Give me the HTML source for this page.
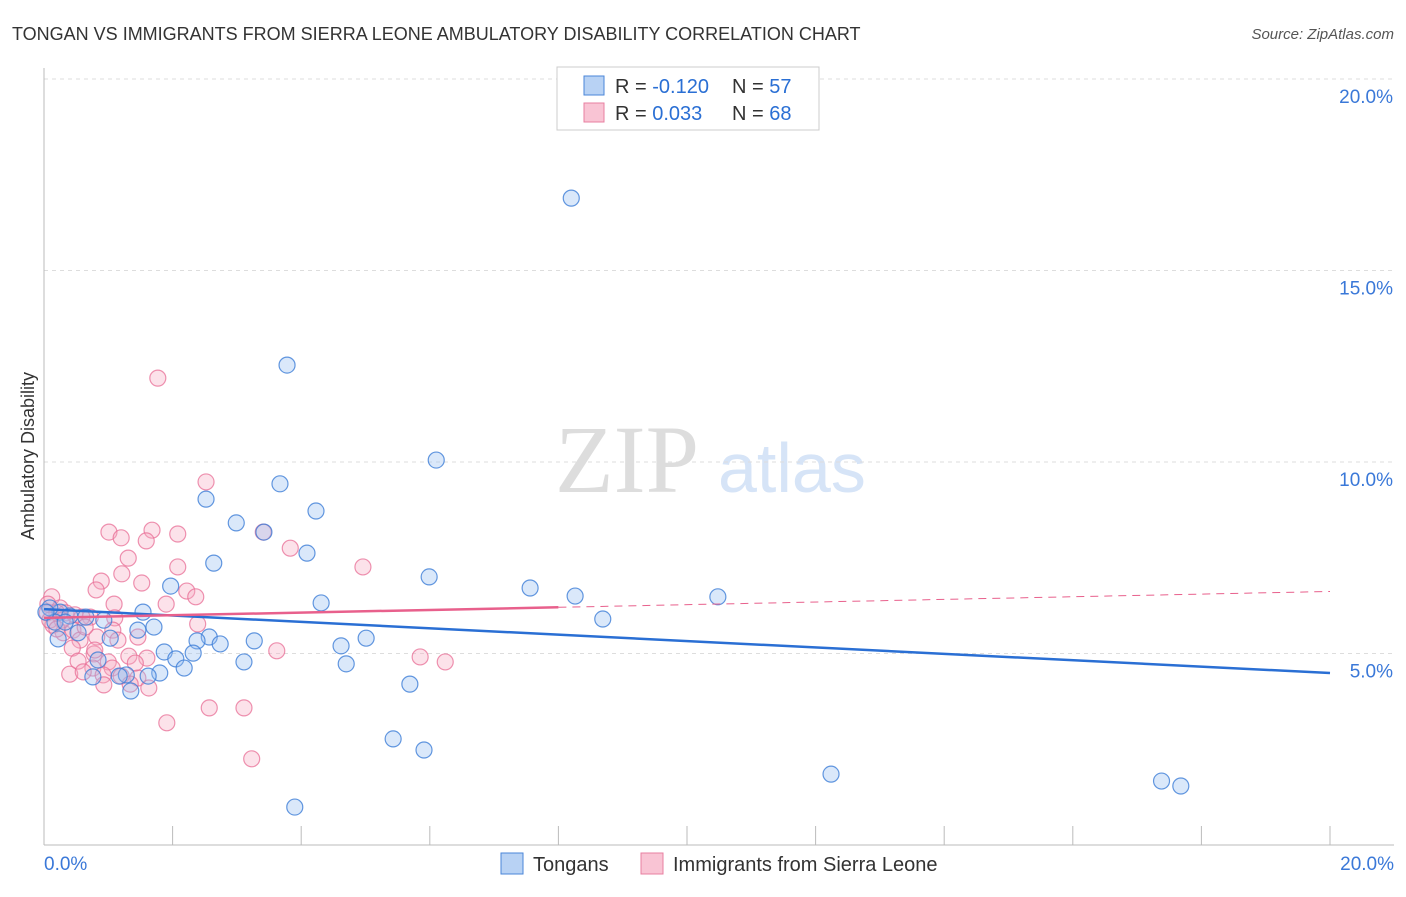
<!DOCTYPE html>
<html><head><meta charset="utf-8"><style>
body{margin:0;background:#fff;font-family:"Liberation Sans",sans-serif}
svg text{font-family:"Liberation Sans",sans-serif}
</style></head><body>
<svg id="c" width="1406" height="892" viewBox="0 0 1406 892">
<text x="12" y="40" font-size="18" fill="#333">TONGAN VS IMMIGRANTS FROM SIERRA LEONE AMBULATORY DISABILITY CORRELATION CHART</text>
<text x="1394" y="39" font-size="15" fill="#555" font-style="italic" text-anchor="end">Source: ZipAtlas.com</text>
<text x="34" y="456" font-size="18" fill="#333" transform="rotate(-90 34 456)" text-anchor="middle">Ambulatory Disability</text>
<text x="555" y="492" font-size="96" fill="#ddd" font-family="Liberation Serif" style="font-family:'Liberation Serif',serif">ZIP</text>
<text x="718" y="492" font-size="70" fill="#d6e4f7">atlas</text>
<g id="grid"></g><g id="ax"></g><g id="pts"></g><g id="trend"></g>
<g>
<rect x="557" y="67" width="262" height="63" fill="#fff" stroke="#ccc"/>
<rect x="584" y="76" width="20" height="19" fill="#b8d2f4" stroke="#4a86d8"/>
<rect x="584" y="103" width="20" height="19" fill="#f9c4d4" stroke="#e87fa0"/>
<text x="615" y="93" font-size="20" fill="#333">R = <tspan fill="#2a6fd4">-0.120</tspan><tspan x="732">N = </tspan><tspan fill="#2a6fd4">57</tspan></text>
<text x="615" y="120" font-size="20" fill="#333">R = <tspan fill="#2a6fd4"> 0.033</tspan><tspan x="732">N = </tspan><tspan fill="#2a6fd4">68</tspan></text>
</g>
<g>
<rect x="501" y="853" width="22" height="21" fill="#b8d2f4" stroke="#4a86d8"/>
<text x="533" y="871" font-size="20" fill="#333">Tongans</text>
<rect x="641" y="853" width="22" height="21" fill="#f9c4d4" stroke="#e87fa0"/>
<text x="673" y="871" font-size="20" fill="#333">Immigrants from Sierra Leone</text>
</g>
</svg>
<script>
const yTicks=[5,10,15,20];
const yTickLabels=["5.0%","10.0%","15.0%","20.0%"];
const xTickCount=10;
const tonganX=[8.20,3.78,6.10,2.52,3.67,4.23,2.99,3.42,4.09,2.64,5.99,7.56,8.26,4.31,10.48,8.69,1.97,1.54,0.93,0.65,0.25,0.09,0.17,0.22,0.53,1.03,1.46,1.71,2.57,2.38,2.74,3.27,5.01,4.62,1.87,2.05,2.32,3.11,4.70,0.84,2.18,1.80,1.28,1.17,0.76,1.62,1.35,5.69,5.43,5.91,3.90,12.24,17.38,17.68,0.40,0.03,0.33];
const tonganY=[16.89,12.53,10.05,9.03,9.43,8.72,8.41,8.17,7.62,7.36,7.00,6.71,6.50,6.32,6.48,5.90,6.76,6.08,5.87,5.95,6.08,6.19,5.82,5.38,5.54,5.40,5.61,5.69,5.43,5.33,5.25,5.33,5.40,5.20,5.04,4.86,5.01,4.78,4.73,4.83,4.62,4.49,4.44,4.41,4.39,4.41,4.02,4.20,2.77,2.48,0.99,1.85,1.67,1.54,5.98,6.08,5.82];
const sierraX=[1.77,2.52,3.41,1.01,1.68,1.20,1.59,2.08,3.83,1.31,2.08,4.96,1.21,0.89,1.52,0.81,2.22,2.36,1.09,1.90,0.12,0.06,0.25,0.34,0.48,0.72,0.05,0.14,0.30,0.45,0.59,1.10,1.07,0.82,1.15,2.39,1.46,0.56,0.44,0.78,1.00,1.32,1.60,3.62,5.85,6.24,0.53,0.76,1.06,0.40,0.61,0.92,1.20,1.46,1.34,0.93,1.63,2.57,3.11,1.91,3.23,0.20,0.28,0.09,0.64,1.42,0.79,0.20];
const sierraY=[12.19,9.48,8.17,8.17,8.22,8.02,7.94,8.12,7.75,7.49,7.26,7.26,7.08,6.89,6.84,6.66,6.63,6.48,6.29,6.29,6.48,6.29,6.19,6.06,6.01,5.95,6.06,5.74,5.54,5.61,5.95,5.93,5.61,5.43,5.35,5.77,5.43,5.35,5.14,4.99,4.78,4.93,4.88,5.07,4.91,4.78,4.80,4.62,4.62,4.46,4.52,4.44,4.41,4.36,4.20,4.18,4.10,3.58,3.58,3.19,2.25,6.06,5.87,5.87,5.69,4.75,5.09,5.64];
const tonganTrend=[6.16,-0.0835];
const sierraTrend=[5.93,0.0345];
const sierraSolidMax=8.0;

const X0=44,X1=1330,Y0=845,Y20=79;
const sx=v=>X0+(X1-X0)*v/20;
const sy=v=>Y0-(Y0-Y20)*v/20;
const NS="http://www.w3.org/2000/svg";
function mk(tag,attrs,parent){const e=document.createElementNS(NS,tag);for(const k in attrs)e.setAttribute(k,attrs[k]);parent.appendChild(e);return e;}
const grid=document.getElementById('grid'),ax=document.getElementById('ax'),pts=document.getElementById('pts'),tr=document.getElementById('trend');
yTicks.forEach((t,i)=>{
 const l=mk('line',{x1:X0,x2:1394,y1:sy(t),y2:sy(t),stroke:'#ddd','stroke-dasharray':'4,4'},grid);
 
 
 const tx=mk('text',{x:1393,y:sy(t)+24,'font-size':19,fill:'#3a78d8','text-anchor':'end'},ax);
 tx.textContent=yTickLabels[i];
 
 
});
const yl=mk('line',{x1:X0,x2:X0,y1:68,y2:Y0,stroke:'#bbb'},ax);


const xl=mk('line',{x1:X0,x2:1394,y1:Y0,y2:Y0,stroke:'#bbb'},ax);


for(let i=1;i<=xTickCount;i++){
 const v=20*i/xTickCount;
 const t=mk('line',{x1:sx(v),x2:sx(v),y1:826,y2:Y0,stroke:'#bbb'},ax);
 
 
}
const xa=mk('text',{x:44,y:870,'font-size':19,fill:'#3a78d8'},ax);xa.textContent='0.0%';


const xb=mk('text',{x:1394,y:870,'font-size':19,fill:'#3a78d8','text-anchor':'end'},ax);xb.textContent='20.0%';


function series(xs,ys,fill,stroke,name){
 xs.forEach((x,i)=>{
  const c=mk('circle',{cx:sx(x),cy:sy(ys[i]),r:8,fill:fill,stroke:stroke,'stroke-width':1.2},pts);
  
  
 });
}
series(sierraX,sierraY,'rgba(246,172,196,0.35)','rgba(232,110,150,0.75)','sierra-leone-point');
series(tonganX,tonganY,'rgba(150,190,240,0.35)','rgba(60,125,215,0.8)','tongan-point');
const tl=mk('line',{x1:sx(0),y1:sy(tonganTrend[0]),x2:sx(20),y2:sy(tonganTrend[0]+20*tonganTrend[1]),stroke:'#2a6fd4','stroke-width':2.5},tr);


const pl=mk('line',{x1:sx(0),y1:sy(sierraTrend[0]),x2:sx(sierraSolidMax),y2:sy(sierraTrend[0]+sierraSolidMax*sierraTrend[1]),stroke:'#e8608c','stroke-width':2.5},tr);


const pd=mk('line',{x1:sx(sierraSolidMax),y1:sy(sierraTrend[0]+sierraSolidMax*sierraTrend[1]),x2:sx(20),y2:sy(sierraTrend[0]+20*sierraTrend[1]),stroke:'#e8608c','stroke-width':1,'stroke-dasharray':'8,6'},tr);


</script>
</body></html>
